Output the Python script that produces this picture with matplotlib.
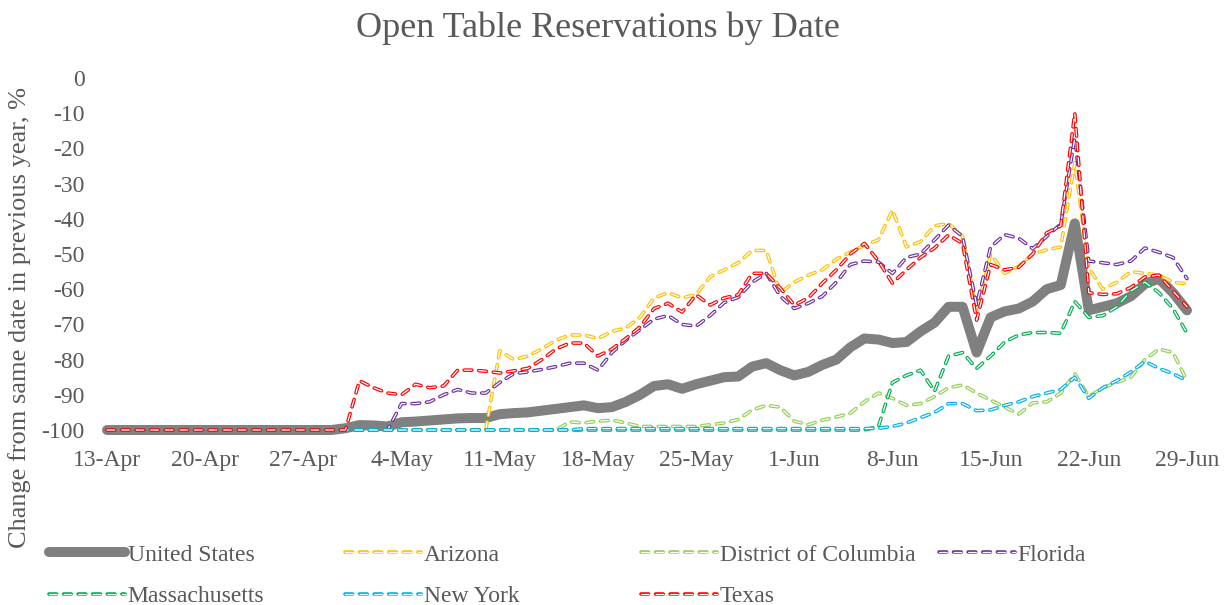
import matplotlib
matplotlib.use("Agg")
import matplotlib.pyplot as plt
import numpy as np

plt.rcParams['lines.scale_dashes'] = False
plt.rcParams['font.family'] = ['Liberation Serif', 'DejaVu Serif']

tick_labels = ["13-Apr", "20-Apr", "27-Apr", "4-May", "11-May", "18-May", "25-May",
               "1-Jun", "8-Jun", "15-Jun", "22-Jun", "29-Jun"]

united_states = [-100]*17 + [
    -99.5, -98.6, -98.7, -99, -97.8, -97.6, -97.3, -97, -96.7, -96.6, -96.6,  # i17-27
    -95.5, -95.2, -95, -94.5, -94, -93.5, -93, -93.8, -93.5, -92, -90,          # i28-38
    -87.5, -87, -88.3, -87, -86, -85, -84.8, -82, -81, -83, -84.5,              # i39-49
    -83.5, -81.5, -80, -76.5, -74, -74.3, -75.3, -75, -72, -69.5, -65,          # i50-60
    -65, -78, -68, -66.3, -65.5, -63.5, -60, -58.8, -41.3, -66, -65,            # i61-71
    -64, -62, -58.5, -57, -61, -66]                                              # i72-77

arizona = [-100]*28 + [
    -77.5, -80, -79, -77, -74.5, -73, -73, -74, -72, -71, -68,                  # i28-38
    -62.5, -61, -62.5, -61.5, -56.5, -54.5, -52.5, -49, -49, -61, -58,          # i39-49
    -56, -54.5, -51.5, -49.5, -47.5, -46, -37.5, -48, -46.5, -42, -41.3,        # i50-60
    -45, -66.5, -50, -55.5, -53.5, -50, -48.8, -48, -24, -54, -60,              # i61-71
    -58, -55, -55.5, -56, -58, -58.5]                                            # i72-77

district_of_columbia = [-100]*33 + [
    -97.7, -98, -97.5, -97.2, -98, -99, -99, -99, -99, -99, -98.5,              # i33-43
    -98, -97, -94.3, -93, -93.5, -97.5, -98.5, -97.2, -96.3, -95.2, -92,        # i44-54
    -89.5, -91, -93, -92.5, -90.5, -88, -87.2, -89.5, -91.5, -93.5, -95.5,      # i55-65
    -92.3, -92, -89.5, -84, -90.5, -88, -86.5, -85, -80, -77, -78, -86]         # i66-77

florida = [-100]*21 + [
    -92.5, -92.5, -92, -90, -88.5, -89.5, -89.5,                                # i21-27
    -86.5, -84, -83.5, -82.8, -82, -81, -81, -83, -78, -74.5, -71.5,            # i28-38
    -68.5, -67.5, -70, -70.5, -67.5, -63.8, -62.3, -58, -55.5, -62, -65.5,      # i39-49
    -64, -62, -58, -53, -52, -52.3, -55.5, -51, -50, -46, -41.8,                # i50-60
    -45, -64.5, -48, -44.5, -45.5, -48.5, -45, -41.5, -17, -52, -52.5,          # i61-71
    -53, -52, -48.3, -49.5, -51, -57]                                            # i72-77

massachusetts = [-100]*55 + [
    -99, -86.5, -84.5, -83, -89, -79, -78, -82.5, -79, -75, -73,                # i55-65
    -72.3, -72.3, -72.5, -63.5, -68, -67.5, -65, -60.5, -58, -61, -65.5, -72.5] # i66-77

new_york = [-100]*34 + [-99.6]*21 + [
    -99.5, -99, -98, -96.5, -95, -92.5, -92.5, -94.5, -94.3, -93, -92,          # i55-65
    -90.5, -89.5, -88.5, -85, -91, -88, -86, -83.5, -80.5, -82.5, -84, -86]     # i66-77

texas = [-100]*18 + [
    -86, -88, -89.5, -90, -87, -88, -87.5, -83, -83, -83.3,                     # i18-27
    -83.8, -83.2, -82.5, -80, -77, -75.3, -75.3, -79, -77, -74, -70.7,          # i28-38
    -65.5, -64, -66.5, -61.6, -64.5, -62.5, -61.6, -55.5, -55.5, -59.7, -64.5,  # i39-49
    -62.5, -58.3, -54.5, -50, -47, -52, -58.3, -54.5, -51, -48.3, -44.6,        # i50-60
    -47, -68.8, -53, -54.5, -53.8, -50, -44, -42, -10, -61, -61.5,              # i61-71
    -61.3, -59.5, -56.5, -56, -60.5, -65]                                        # i72-77

series = [
    ("Arizona", arizona, "#FFC000"),
    ("District of Columbia", district_of_columbia, "#92D050"),
    ("Florida", florida, "#7030A0"),
    ("Massachusetts", massachusetts, "#00B050"),
    ("New York", new_york, "#00B0F0"),
    ("Texas", texas, "#FF0000"),
]

W, H = 1226, 605
fig = plt.figure(figsize=(W/100, H/100), dpi=100)
x0_px, x1_px = 100, 1194
ytop, ybot = 78, 430
ax = fig.add_axes([x0_px/W, (H-ybot)/H, (x1_px-x0_px)/W, (ybot-ytop)/H])

n = len(united_states)
x = np.arange(n)
txt = "#595959"

handles = {}
l, = ax.plot(x, united_states, color="#808080", lw=7.2, solid_capstyle="round",
             solid_joinstyle="round", clip_on=False, zorder=2)
handles["United States"] = l

dash = (0, (5.5, 5.0))
for k, (name, vals, col) in enumerate(series):
    z = 3 + k
    lo, = ax.plot(x, vals, color=col, lw=2.6, linestyle=dash, dash_capstyle="round",
                  dash_joinstyle="round", clip_on=False, zorder=z)
    li, = ax.plot(x, vals, color="white", lw=0.9, linestyle=dash, dash_capstyle="round",
                  dash_joinstyle="round", clip_on=False, zorder=z + 0.5)
    handles[name] = (lo, li)

ax.set_xlim(-0.5, n - 0.5)
ax.set_ylim(-100, 0)
ax.set_xticks(np.arange(0, n, 7))
ax.set_xticklabels(tick_labels)
ax.set_yticks(np.arange(-100, 1, 10))
ax.set_yticklabels([str(v) for v in range(-100, 1, 10)])
ax.tick_params(axis="both", length=0, labelsize=17, colors=txt)
ax.tick_params(axis="x", pad=14.5)
ax.tick_params(axis="y", pad=11)
for s in ax.spines.values():
    s.set_visible(False)

fig.text(598/W, 1 - 28/H, "Open Table Reservations by Date", ha="center", va="center",
         fontsize=26, color=txt)
fig.text(20/W, 1 - 318/H, "Change from same date in previous year, %", rotation=90,
         ha="center", va="center", fontsize=19, color=txt)

cols = [["United States", "Massachusetts"], ["Arizona", "New York"],
        ["District of Columbia", "Texas"], ["Florida"]]
col_x = [49, 345, 641, 939]
for cx, names in zip(col_x, cols):
    leg = fig.legend([handles[nm] for nm in names], names, loc="upper left",
                     bbox_to_anchor=(cx / W, 1 - 544 / H), frameon=False,
                     handlelength=3.2, handletextpad=0.13, labelspacing=0.85,
                     fontsize=17, borderpad=0, borderaxespad=0, labelcolor=txt)

fig.savefig("out.png", dpi=100)
